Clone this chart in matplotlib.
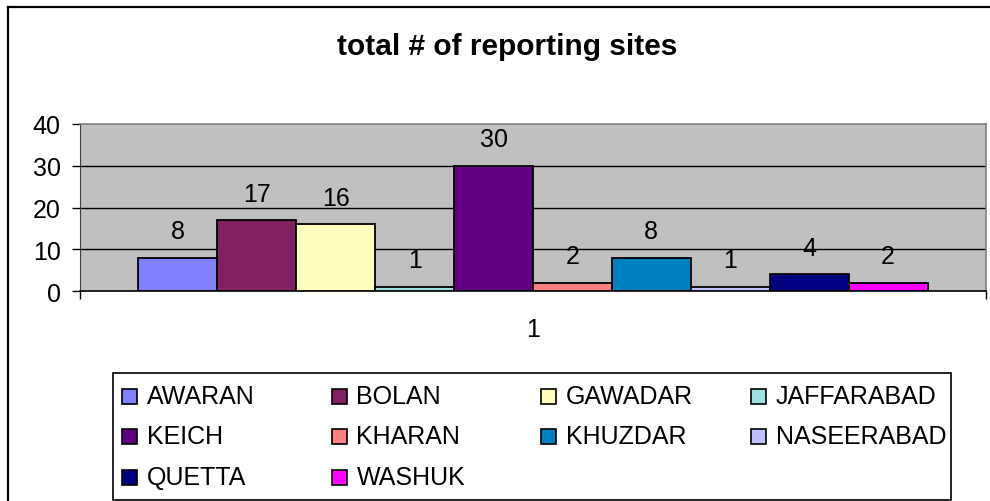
import matplotlib
matplotlib.use("Agg")
import matplotlib.pyplot as plt
from matplotlib.patches import Rectangle
from matplotlib.lines import Line2D

plt.rcParams['font.family'] = ['Liberation Sans', 'DejaVu Sans']

categories = ["AWARAN", "BOLAN", "GAWADAR", "JAFFARABAD", "KEICH",
              "KHARAN", "KHUZDAR", "NASEERABAD", "QUETTA", "WASHUK"]
values = [8, 17, 16, 1, 30, 2, 8, 1, 4, 2]
colors = ["#8080FF", "#802060", "#FFFFC0", "#A0E0E0", "#600080",
          "#FF8080", "#0080C0", "#C0C0FF", "#000080", "#FF00FF"]
yticks = [0, 10, 20, 30, 40]
x_label = "1"
title = "total # of reporting sites"

W, H = 990, 502
fig = plt.figure(figsize=(W / 100, H / 100), dpi=100)
fig.patch.set_facecolor("white")

# outer chart border (left and top visible)
fig.add_artist(Line2D([8 / W, 8 / W], [0, 1 - 8 / H], color="black", lw=1.6,
                      transform=fig.transFigure))
fig.add_artist(Line2D([8 / W, 1], [1 - 8 / H, 1 - 8 / H], color="black", lw=1.6,
                      transform=fig.transFigure))

# plot area
pl, pr, pt, pb = 80, 986, 125, 292
ax = fig.add_axes([pl / W, 1 - pb / H, (pr - pl) / W, (pb - pt) / H])
ax.set_facecolor("#C0C0C0")
ax.set_xlim(-0.5, 0.5)
ax.set_ylim(0, 40)

n = len(values)
bw = 0.0871
for i, (v, c) in enumerate(zip(values, colors)):
    xc = (i - (n - 1) / 2) * bw
    ax.bar(xc, v, width=bw, color=c, edgecolor="black", linewidth=1.3, zorder=3)
    ax.annotate(str(v), (xc, v), xytext=(0, 19), textcoords="offset points",
                ha="center", va="center", fontsize=18, zorder=4)

ax.set_yticks(yticks)
ax.set_yticklabels([str(t) for t in yticks], fontsize=18)
ax.tick_params(axis="y", direction="out", length=6, width=1, pad=8, color="black")
for t in yticks[1:-1]:
    ax.axhline(t, color="black", lw=1, zorder=1)

ax.set_xticks([-0.5, 0.5])
ax.set_xticklabels(["", ""])
ax.tick_params(axis="x", direction="out", length=6, width=1, color="black")
ax.text(0, -0.23, x_label, transform=ax.get_xaxis_transform(), ha="center",
        va="center", fontsize=18)

for s in ["top", "right"]:
    ax.spines[s].set_color("#808080")
    ax.spines[s].set_linewidth(1.2)
ax.spines["left"].set_color("#404040")
ax.spines["bottom"].set_color("black")
ax.spines["bottom"].set_linewidth(1.2)

fig.text(507 / W, 1 - 55 / H, title, ha="center", va="baseline",
         fontsize=21.5, fontweight="bold")

# legend box
lx0, lx1, ly0, ly1 = 113, 951, 374, 501
fig.add_artist(Rectangle((lx0 / W, 1 - ly1 / H), (lx1 - lx0) / W, (ly1 - ly0) / H,
                         transform=fig.transFigure, facecolor="white",
                         edgecolor="black", lw=1.2))
ms = 15
for i, (name, c) in enumerate(zip(categories, colors)):
    r, col = divmod(i, 4)
    x = 122 + col * 209.5
    y = 397 + r * 40.5
    fig.add_artist(Rectangle((x / W, 1 - (y + ms / 2) / H), ms / W, ms / H,
                             transform=fig.transFigure, facecolor=c,
                             edgecolor="black", lw=1.2))
    fig.text((x + ms + 10) / W, 1 - y / H, name, ha="left", va="center",
             fontsize=18)

fig.savefig("out.png", dpi=100)
